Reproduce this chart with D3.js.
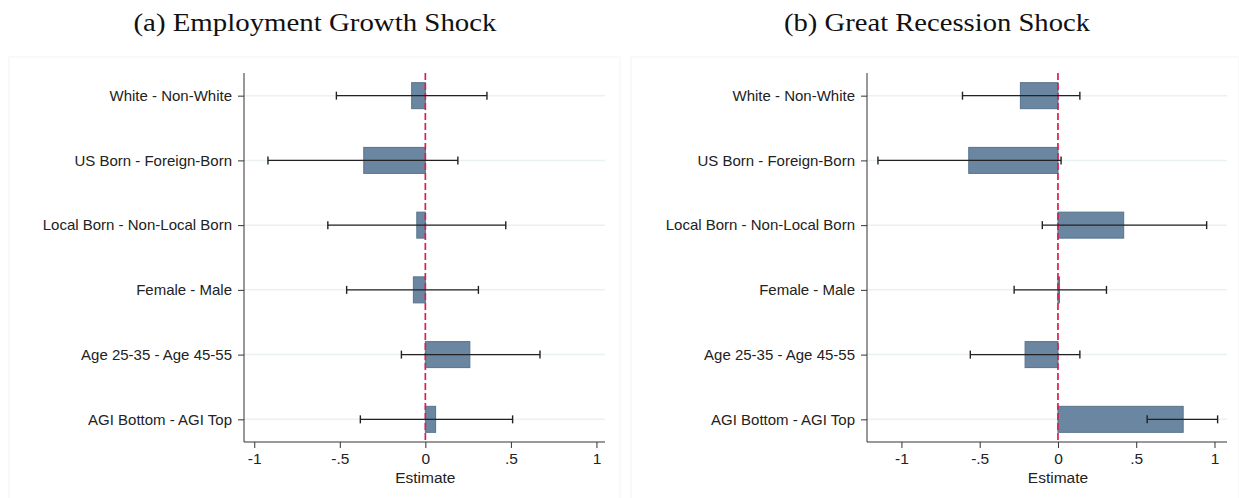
<!DOCTYPE html>
<html lang="en">
<head>
<meta charset="UTF-8">
<title>Shock estimates</title>
<script src="https://d3js.org/d3.v7.min.js"></script>
<style>
    body { margin: 0; background: #fff; }
    .tick text { font-family: "Liberation Sans", Arial, sans-serif; fill: #222; }
    .yax .tick text { font-size: 15px; }
    .xax .tick text { font-size: 15.5px; }
</style>
</head>
<body>
<svg width="1239" height="498"></svg>
<script>
    const categories = ["White - Non-White", "US Born - Foreign-Born", "Local Born - Non-Local Born",
        "Female - Male", "Age 25-35 - Age 45-55", "AGI Bottom - AGI Top"];

    // panel (a) Employment Growth Shock
    const empEstimate = [-0.08, -0.36, -0.05, -0.07, 0.26, 0.06];
    const empLow      = [-0.52, -0.92, -0.57, -0.46, -0.14, -0.38];
    const empHigh     = [0.36, 0.19, 0.47, 0.31, 0.67, 0.51];

    // panel (b) Great Recession Shock
    const recEstimate = [-0.24, -0.57, 0.42, 0.01, -0.21, 0.80];
    const recLow      = [-0.61, -1.15, -0.10, -0.28, -0.56, 0.57];
    const recHigh     = [0.14, 0.02, 0.95, 0.31, 0.14, 1.02];

    const xTicks = [-1, -0.5, 0, 0.5, 1];
    const tickLabel = v => v === 0 ? "0" : String(v).replace("0.", ".");

    const svg = d3.select("svg");

    const panels = [
        {title: "(a) Employment Growth Shock", est: empEstimate, lo: empLow, hi: empHigh,
         box: [9, 620], x0: 244, x1: 605, domain: [-1.06, 1.05], titleX: 315, titleW: 363},
        {title: "(b) Great Recession Shock", est: recEstimate, lo: recLow, hi: recHigh,
         box: [631, 1239], x0: 867, x1: 1227, domain: [-1.22, 1.08], titleX: 937, titleW: 306}
    ];

    const yTop = 73, yBot = 442;

    panels.forEach(p => {
        const g = svg.append("g");

        // outer panel frame
        g.append("rect")
            .attr("x", p.box[0]).attr("y", 57)
            .attr("width", p.box[1] - p.box[0]).attr("height", 450)
            .attr("fill", "#fff").attr("stroke", "#f3f3f3");

        g.append("text")
            .attr("x", p.titleX).attr("y", 31)
            .attr("text-anchor", "middle")
            .attr("font-family", "'Liberation Serif', 'DejaVu Serif', serif")
            .attr("font-size", 25)
            .attr("textLength", p.titleW)
            .attr("lengthAdjust", "spacingAndGlyphs")
            .attr("fill", "#111")
            .text(p.title);

        const x = d3.scaleLinear().domain(p.domain).range([p.x0, p.x1]);
        const y = d3.scalePoint().domain(categories).range([yTop, yBot]).padding(0.35);

        const rows = categories.map((c, i) => ({cat: c, est: p.est[i], lo: p.lo[i], hi: p.hi[i]}));

        // grid lines
        g.append("g").selectAll("line").data(categories).join("line")
            .attr("x1", p.x0).attr("x2", p.x1)
            .attr("y1", d => y(d)).attr("y2", d => y(d))
            .attr("stroke", "#e9f1f3").attr("stroke-width", 1.5);

        // bars
        const bh = 26;
        g.append("g").selectAll("rect").data(rows).join("rect")
            .attr("x", d => x(Math.min(0, d.est)))
            .attr("width", d => Math.max(1.5, Math.abs(x(d.est) - x(0))))
            .attr("y", d => y(d.cat) - bh / 2)
            .attr("height", bh)
            .attr("fill", "#6a86a1")
            .attr("stroke", "#58728e")
            .attr("stroke-width", 1);

        // zero line
        g.append("line")
            .attr("x1", x(0)).attr("x2", x(0))
            .attr("y1", yTop).attr("y2", yBot)
            .attr("stroke", "#de1d50").attr("stroke-width", 1.7)
            .attr("stroke-dasharray", "7,3");

        // confidence intervals
        const ci = g.append("g").attr("stroke", "#222").attr("stroke-width", 1.4);
        ci.selectAll("line.ci").data(rows).join("line").attr("class", "ci")
            .attr("x1", d => x(d.lo)).attr("x2", d => x(d.hi))
            .attr("y1", d => y(d.cat)).attr("y2", d => y(d.cat));
        ci.selectAll("line.capl").data(rows).join("line").attr("class", "capl")
            .attr("x1", d => x(d.lo)).attr("x2", d => x(d.lo))
            .attr("y1", d => y(d.cat) - 4).attr("y2", d => y(d.cat) + 4);
        ci.selectAll("line.caph").data(rows).join("line").attr("class", "caph")
            .attr("x1", d => x(d.hi)).attr("x2", d => x(d.hi))
            .attr("y1", d => y(d.cat) - 4).attr("y2", d => y(d.cat) + 4);

        // axes
        const xa = g.append("g").attr("class", "xax").attr("transform", `translate(0,${yBot})`)
            .call(d3.axisBottom(x).tickValues(xTicks).tickFormat(tickLabel).tickSize(6).tickPadding(5).tickSizeOuter(0));
        xa.select(".domain").attr("stroke", "#333").attr("d", `M${p.x0},0H${p.x1}`);
        xa.selectAll(".tick line").attr("stroke", "#333");

        const ya = g.append("g").attr("class", "yax").attr("transform", `translate(${p.x0},0)`)
            .call(d3.axisLeft(y).tickSize(6).tickPadding(6).tickSizeOuter(0));
        ya.select(".domain").attr("stroke", "#333").attr("d", `M0,${yTop}V${yBot}`);
        ya.selectAll(".tick line").attr("stroke", "#333");

        g.append("text")
            .attr("x", x(0)).attr("y", 482.5)
            .attr("text-anchor", "middle")
            .attr("font-family", "'Liberation Sans', Arial, sans-serif")
            .attr("font-size", 15.5).attr("fill", "#222")
            .text("Estimate");
    });
</script>
</body>
</html>
